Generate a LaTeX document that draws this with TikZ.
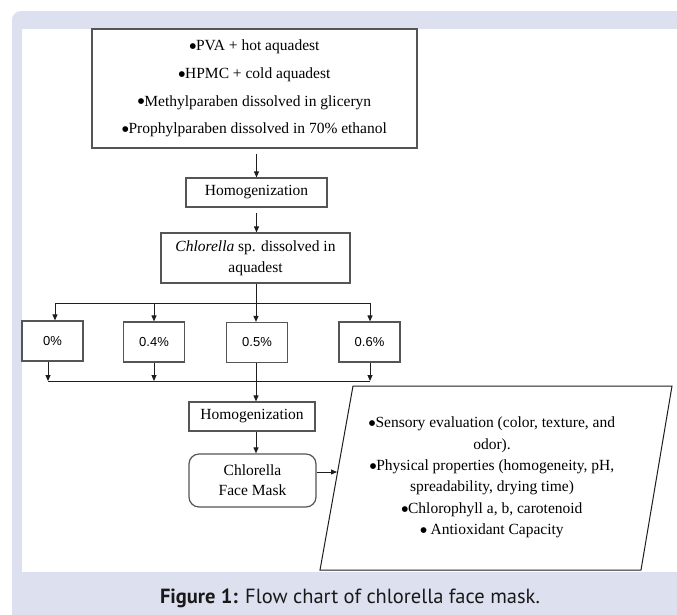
\documentclass[tikz,border=0pt]{standalone}
\usepackage{fontspec}
\setmainfont{Liberation Serif}
\newfontfamily\pctfont{Liberation Sans}
\newfontfamily\capfont{PT Sans}
\newfontfamily\dotfont{DejaVu Sans}
\newcommand{\bul}{\raisebox{2.3pt}{\dotfont\fontsize{7.5}{8}\selectfont ●}}
\usetikzlibrary{arrows.meta}
\definecolor{band}{RGB}{221,225,239}
\definecolor{boxline}{RGB}{85,85,85}
\definecolor{conline}{RGB}{30,30,30}
\begin{document}
\begin{tikzpicture}[x=1pt,y=-1pt,
  box/.style={draw=boxline, line width=1.2pt, fill=white, inner sep=0pt,
    font=\fontsize{15.5}{21}\selectfont, align=center},
  pct/.style={box, font=\pctfont\fontsize{13}{15}\selectfont,
    minimum width=61pt, minimum height=40pt},
  con/.style={draw=conline, line width=1pt},
  arr/.style={con, -{Triangle[length=6pt,width=5pt]}},
]
\useasboundingbox (0,0) rectangle (677,614);
\begin{scope}
  \clip (0,0) rectangle (677,614);
  \fill[band, rounded corners=9pt] (12,11) rectangle (700,640);
  \fill[white] (22,29) rectangle (680,572);
\end{scope}

% boxes
\node[box, minimum width=325pt, minimum height=119pt,
  font=\fontsize{15.5}{27.7}\selectfont] (mix) at (254.5,88.5)
  {\bul PVA + hot aquadest\\\bul HPMC + cold aquadest\\\bul Methylparaben dissolved in gliceryn\\\bul Prophylparaben dissolved in 70\% ethanol};
\node[box, minimum width=141pt, minimum height=29pt] (hom1) at (256.5,192.5) {Homogenization};
\node[box, minimum width=189pt, minimum height=50pt] (chl) at (255.5,258)
  {\textit{Chlorella} sp. dissolved in\\aquadest};
\node[pct] (p0) at (52.5,341) {0\%};
\node[pct] (p4) at (154,342) {0.4\%};
\node[pct] (p5) at (257,342.5) {0.5\%};
\node[pct] (p6) at (369.5,342) {0.6\%};
\node[box, minimum width=126pt, minimum height=29pt] (hom2) at (252,416.5) {Homogenization};
\node[box, minimum width=127pt, minimum height=53pt, rounded corners=10pt,
  font=\fontsize{15.5}{20}\selectfont] (face) at (252.5,480.5) {Chlorella\\Face Mask};

% parallelogram
\coordinate (pa) at (353,386);
\coordinate (pb) at (672,386);
\coordinate (pc) at (641,570);
\coordinate (pd) at (320,570);
\draw[con] (pa) -- (pb) -- (pc) -- (pd) -- cycle;
\node[align=center, inner sep=0pt, font=\fontsize{15.5}{21.4}\selectfont] (ptext) at (492,477.5)
  {\bul Sensory evaluation (color, texture, and\\odor).\\\bul Physical properties (homogeneity, pH,\\spreadability, drying time)\\\bul Chlorophyll a, b, carotenoid\\\bul\ Antioxidant Capacity};
\coordinate (pin) at (337,472);

% connectors
\draw[arr, shorten <=5pt] (hom1.north |- mix.south) -- (hom1.north);
\draw[arr, shorten <=5pt] (hom1.south) -- (hom1.south |- chl.north);
\coordinate (split) at (256,303);
\coordinate (sl) at (55,303);
\coordinate (sr) at (370,303);
\draw[con] (chl.south -| split) -- (split);
\draw[con] (sl) -- (sr);
\draw[arr] (sl) -- (sl |- p0.north);
\draw[arr] (p4.north |- sl) -- (p4.north);
\draw[arr] (split) -- (split |- p5.north);
\draw[arr] (sr) -- (sr |- p6.north);
\coordinate (jl) at (48,381);
\coordinate (jr) at (370,381);
\draw[con] (jl) -- (jr);
\draw[arr] (jl |- p0.south) -- (jl);
\draw[arr] (p4.south) -- (p4.south |- jl);
\draw[arr] (jr |- p6.south) -- (jr);
\draw[arr] (split |- p5.south) -- (split |- hom2.north);
\draw[arr] (split |- hom2.south) -- (split |- face.north);
\draw[arr] (face.east |- pin) -- (pin);

% caption
\node[font=\capfont\fontsize{20.5}{24}\selectfont, anchor=base, text=black!90, inner sep=0pt]
  (cap) at (350,603) {\textbf{Figure 1:} Flow chart of chlorella face mask.};
\end{tikzpicture}
\end{document}
